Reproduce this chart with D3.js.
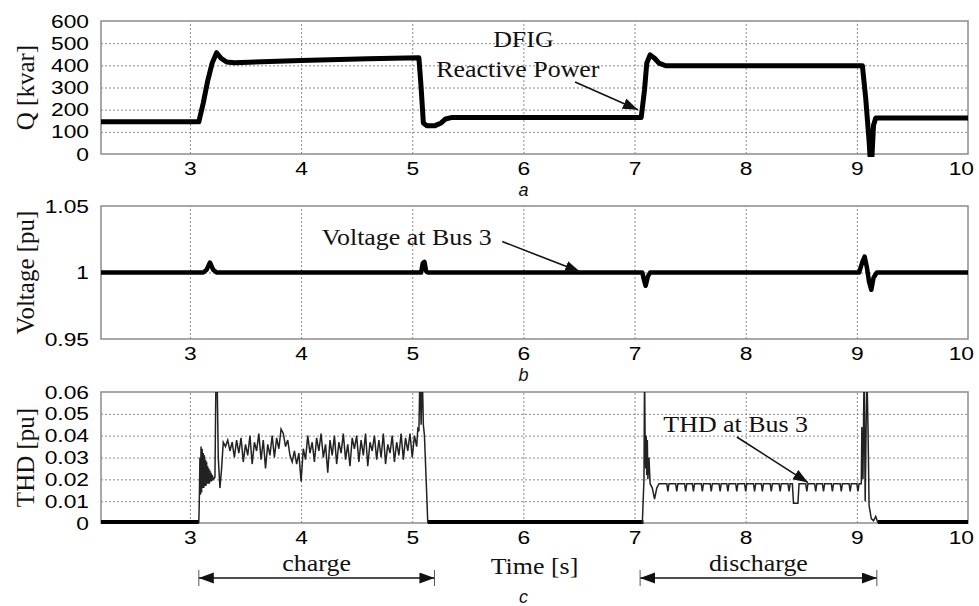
<!DOCTYPE html>
<html>
<head>
<meta charset="utf-8">
<script src="https://cdn.jsdelivr.net/npm/d3@7/dist/d3.min.js"></script>
<style>
  body { margin: 0; background: #fff; }
  .tick-lbl { font-family: "Liberation Sans", Arial, sans-serif; font-size: 19px; fill: #000; }
  .serif { font-family: "Liberation Serif", "Times New Roman", serif; fill: #111; }
</style>
</head>
<body>
<svg id="chart" width="979" height="606"></svg>
<script>
// ---- values ----
const timeTicks = [3, 4, 5, 6, 7, 8, 9, 10]
const timeGrid = [3, 4, 5, 6, 7, 8, 9]
const qTicks = [0, 100, 200, 300, 400, 500, 600]
const voltTicks = [0.95, 1, 1.05]
const thdTicks = [0, 0.01, 0.02, 0.03, 0.04, 0.05, 0.06]

// DFIG reactive power [kvar]
const qPoints = [
  [2.2, 145], [3.08, 145], [3.12, 230], [3.16, 330], [3.2, 410], [3.24, 457], [3.28, 432],
  [3.33, 415], [3.4, 412], [4.0, 422], [4.6, 430], [5.06, 434], [5.08, 300], [5.1, 140],
  [5.13, 128], [5.2, 127], [5.26, 140], [5.3, 158], [5.36, 165], [7.06, 165], [7.09, 290],
  [7.11, 410], [7.14, 447], [7.18, 432], [7.22, 410], [7.28, 398], [9.05, 398], [9.08, 250],
  [9.11, 60], [9.12, -20], [9.135, -20], [9.15, 130], [9.17, 162], [10, 162]
]

// voltage at bus 3 [pu]
const voltPoints = [
  [2.2, 1], [3.12, 1], [3.15, 1.002], [3.18, 1.0075], [3.21, 1.002], [3.24, 1], [5.08, 1],
  [5.095, 1.007], [5.11, 1.008], [5.125, 1.001], [5.14, 1], [7.07, 1], [7.08, 0.996],
  [7.1, 0.990], [7.12, 0.997], [7.14, 1], [9.02, 1], [9.05, 1.008], [9.07, 1.012],
  [9.09, 1.004], [9.11, 0.993], [9.13, 0.987], [9.15, 0.996], [9.18, 1], [10, 1]
]

// THD at bus 3 [pu], charging interval
const thdCharge = [
  [3.08, 0], [3.085, 0.012], [3.09, 0.03], [3.095, 0.013], [3.1, 0.035], [3.105, 0.014],
  [3.11, 0.034], [3.115, 0.016], [3.12, 0.032], [3.125, 0.016], [3.13, 0.031], [3.135, 0.017],
  [3.14, 0.029], [3.145, 0.017], [3.15, 0.028], [3.155, 0.018], [3.16, 0.026], [3.165, 0.018],
  [3.17, 0.025], [3.175, 0.018], [3.18, 0.024], [3.185, 0.019], [3.19, 0.023], [3.195, 0.019],
  [3.2, 0.022], [3.21, 0.02], [3.225, 0.021], [3.235, 0.07], [3.245, 0.065], [3.255, 0.03],
  [3.27, 0.016], [3.285, 0.025], [3.3, 0.037], [3.32, 0.035], [3.34, 0.038], [3.36, 0.033],
  [3.38, 0.037], [3.4, 0.03], [3.42, 0.038], [3.44, 0.032], [3.46, 0.039], [3.48, 0.028],
  [3.5, 0.036], [3.52, 0.031], [3.54, 0.04], [3.56, 0.027], [3.58, 0.037], [3.6, 0.033],
  [3.62, 0.041], [3.64, 0.029], [3.66, 0.038], [3.68, 0.025], [3.7, 0.036], [3.72, 0.031],
  [3.74, 0.04], [3.76, 0.03], [3.78, 0.039], [3.8, 0.034], [3.82, 0.043], [3.84, 0.041],
  [3.86, 0.035], [3.88, 0.038], [3.9, 0.031], [3.92, 0.028], [3.94, 0.033], [3.96, 0.027],
  [3.98, 0.032], [4.0, 0.019], [4.02, 0.034], [4.04, 0.029], [4.06, 0.04], [4.08, 0.032],
  [4.1, 0.037], [4.12, 0.028], [4.14, 0.039], [4.16, 0.033], [4.18, 0.041], [4.2, 0.03],
  [4.22, 0.036], [4.24, 0.023], [4.26, 0.038], [4.28, 0.031], [4.3, 0.04], [4.32, 0.027],
  [4.34, 0.037], [4.36, 0.032], [4.38, 0.041], [4.4, 0.029], [4.42, 0.036], [4.44, 0.026],
  [4.46, 0.039], [4.48, 0.034], [4.5, 0.04], [4.52, 0.028], [4.54, 0.038], [4.56, 0.031],
  [4.58, 0.041], [4.6, 0.026], [4.62, 0.037], [4.64, 0.033], [4.66, 0.04], [4.68, 0.029],
  [4.7, 0.038], [4.72, 0.03], [4.74, 0.041], [4.76, 0.027], [4.78, 0.036], [4.8, 0.032],
  [4.82, 0.04], [4.84, 0.028], [4.86, 0.037], [4.88, 0.031], [4.9, 0.041], [4.92, 0.029],
  [4.94, 0.039], [4.96, 0.033], [4.98, 0.041], [5.0, 0.03], [5.02, 0.04], [5.04, 0.035],
  [5.05, 0.043], [5.06, 0.042], [5.07, 0.07], [5.08, 0.045], [5.09, 0.07], [5.1, 0.045],
  [5.11, 0.04], [5.125, 0.02], [5.14, 0]
]

// THD at bus 3 [pu], discharging interval
const thdDischarge = [
  [7.07, 0], [7.085, 0.02], [7.09, 0.07], [7.095, 0.04], [7.1, 0.025], [7.105, 0.04],
  [7.11, 0.022], [7.115, 0.038], [7.12, 0.02], [7.13, 0.03], [7.14, 0.018], [7.16, 0.016],
  [7.18, 0.011], [7.2, 0.016], [7.22, 0.018],
  [7.29, 0.018], [7.3, 0.0145], [7.31, 0.018], [7.37, 0.018], [7.38, 0.0145], [7.39, 0.018],
  [7.45, 0.018], [7.46, 0.0145], [7.47, 0.018], [7.52, 0.018], [7.53, 0.0145], [7.54, 0.018],
  [7.6, 0.018], [7.61, 0.0145], [7.62, 0.018], [7.68, 0.018], [7.69, 0.0145], [7.7, 0.018],
  [7.76, 0.018], [7.77, 0.0145], [7.78, 0.018], [7.83, 0.018], [7.84, 0.0145], [7.85, 0.018],
  [7.91, 0.018], [7.92, 0.0145], [7.93, 0.018], [7.99, 0.018], [8.0, 0.0145], [8.01, 0.018],
  [8.07, 0.018], [8.08, 0.0145], [8.09, 0.018], [8.14, 0.018], [8.15, 0.0145], [8.16, 0.018],
  [8.22, 0.018], [8.23, 0.0145], [8.24, 0.018], [8.3, 0.018], [8.31, 0.0145], [8.32, 0.018],
  [8.38, 0.018], [8.39, 0.0145], [8.4, 0.018], [8.42, 0.018], [8.43, 0.009], [8.47, 0.009],
  [8.48, 0.018], [8.54, 0.018], [8.55, 0.0145], [8.56, 0.018], [8.62, 0.018], [8.63, 0.0145],
  [8.64, 0.018], [8.69, 0.018], [8.7, 0.0145], [8.71, 0.018], [8.77, 0.018], [8.78, 0.0145],
  [8.79, 0.018], [8.85, 0.018], [8.86, 0.0145], [8.87, 0.018], [8.93, 0.018], [8.94, 0.0145],
  [8.95, 0.018], [9.0, 0.018], [9.01, 0.0145], [9.02, 0.018], [9.04, 0.018], [9.045, 0.044],
  [9.05, 0.03], [9.055, 0.02], [9.065, 0.07], [9.075, 0.01], [9.09, 0.07], [9.1, 0.045],
  [9.11, 0.008], [9.13, 0.002], [9.15, 0.001], [9.17, 0.003], [9.19, 0]
]

// intervals where THD sits at zero (drawn heavy in the original)
const thdZeroSpans = [[2.2, 3.08], [5.14, 7.08], [9.19, 10]]

const qNotes = [['DFIG', 6.0, 483], ['Reactive Power', 5.95, 347]]
const qArrow = [[6.465, 325], [7.03, 200]]
const voltNotes = [['Voltage at Bus 3', 4.95, 1.021]]
const voltArrow = [[5.81, 1.0233], [6.51, 1.0005]]
const thdNotes = [['THD at Bus 3', 7.91, 0.0415]]
const thdArrow = [[7.92, 0.0394], [8.56, 0.0185]]
const phaseSpans = [['charge', 3.08, 5.2], ['discharge', 7.05, 9.18]]

// ---- layout ----
const left = 101, right = 968
const svg = d3.select('#chart')
const x = d3.scaleLinear().domain([2.2, 10]).range([left, right])

// horizontal stretch about the text anchor, the scan is wider than tall
function stretch (sel, k) {
  sel.attr('transform', function () {
    const tx = +d3.select(this).attr('x') || 0
    return 'translate(' + tx + ',0) scale(' + k + ',1) translate(' + (-tx) + ',0)'
  })
}

const defs = svg.append('defs')
defs.append('marker')
  .attr('id', 'head')
  .attr('markerUnits', 'userSpaceOnUse')
  .attr('markerWidth', 16).attr('markerHeight', 12)
  .attr('refX', 15).attr('refY', 5.5)
  .attr('orient', 'auto-start-reverse')
  .append('path').attr('d', 'M0,0 L15,5.5 L0,11 Z').attr('fill', '#111')

const panels = [
  { key: 'q', top: 21, bottom: 154, domain: [0, 600], ticks: qTicks, grid: [100, 200, 300, 400, 500],
    label: 'Q [kvar]', sub: 'a', fmt: d3.format('d') },
  { key: 'v', top: 206, bottom: 339, domain: [0.95, 1.05], ticks: voltTicks, grid: [1],
    label: 'Voltage [pu]', sub: 'b', fmt: d => String(d) },
  { key: 't', top: 392, bottom: 523, domain: [0, 0.06], ticks: thdTicks, grid: [0.01, 0.02, 0.03, 0.04, 0.05],
    label: 'THD [pu]', sub: 'c', fmt: d => String(d) }
]

panels.forEach(p => {
  p.y = d3.scaleLinear().domain(p.domain).range([p.bottom, p.top])
  const g = svg.append('g').attr('class', 'panel-' + p.key)

  // lines may spill a little over the lower frame, as in the original
  defs.append('clipPath').attr('id', 'clip-' + p.key)
    .append('rect').attr('x', left).attr('y', p.top)
    .attr('width', right - left).attr('height', p.bottom - p.top + 3)

  // grid
  const vg = g.append('g').attr('transform', 'translate(0,' + p.bottom + ')')
    .call(d3.axisBottom(x).tickValues(timeGrid).tickSize(-(p.bottom - p.top)).tickFormat(''))
  const hg = g.append('g').attr('transform', 'translate(' + left + ',0)')
    .call(d3.axisLeft(p.y).tickValues(p.grid).tickSize(-(right - left)).tickFormat(''))
  ;[vg, hg].forEach(s => {
    s.select('.domain').remove()
    s.selectAll('line').attr('stroke', '#8a8a8a').attr('stroke-width', 1).attr('stroke-dasharray', '2,2')
  })

  // frame
  g.append('rect').attr('x', left).attr('y', p.top)
    .attr('width', right - left).attr('height', p.bottom - p.top)
    .attr('fill', 'none').attr('stroke', '#8c8c8c').attr('stroke-width', 1.5)

  // tick labels
  const ya = g.append('g').attr('transform', 'translate(' + left + ',0)')
    .call(d3.axisLeft(p.y).tickValues(p.ticks).tickSize(0).tickPadding(12).tickFormat(p.fmt))
  const xa = g.append('g').attr('transform', 'translate(0,' + p.bottom + ')')
    .call(d3.axisBottom(x).tickValues(timeTicks).tickSize(0).tickPadding(8).tickFormat(d3.format('d')))
  ;[ya, xa].forEach(s => {
    s.select('.domain').remove()
    s.selectAll('text').attr('class', 'tick-lbl').attr('font-size', null).attr('font-family', null)
    s.attr('font-size', null).attr('font-family', null)
    stretch(s.selectAll('text'), 1.2)
  })
  // last label sits against the page edge, nudge it in
  xa.selectAll('text').filter(d => d === 10).attr('dx', -6)

  // y label
  g.append('text').attr('class', 'serif')
    .attr('transform', 'translate(34,' + (p.top + p.bottom) / 2 + ') rotate(-90)')
    .attr('text-anchor', 'middle').attr('font-size', 25).text(p.label)

  // panel letter
  g.append('text').attr('x', x(6)).attr('y', p.bottom + (p.key === 't' ? 80 : 42))
    .attr('text-anchor', 'middle').attr('font-style', 'italic')
    .attr('font-family', 'Liberation Sans, Arial, sans-serif').attr('font-size', 18)
    .attr('fill', '#111').text(p.sub)

  p.plot = g.append('g').attr('clip-path', 'url(#clip-' + p.key + ')')
  p.g = g
})

const [pq, pv, pt] = panels
const lineFor = p => d3.line().x(d => x(d[0])).y(d => p.y(d[1]))

pq.plot.append('path').datum(qPoints).attr('d', lineFor(pq))
  .attr('fill', 'none').attr('stroke', '#000').attr('stroke-width', 5).attr('stroke-linejoin', 'round')

pv.plot.append('path').datum(voltPoints).attr('d', lineFor(pv))
  .attr('fill', 'none').attr('stroke', '#000').attr('stroke-width', 4.5).attr('stroke-linejoin', 'round')

thdZeroSpans.forEach(s => {
  pt.plot.append('line').attr('x1', x(s[0])).attr('x2', x(s[1]))
    .attr('y1', pt.y(0) - 1).attr('y2', pt.y(0) - 1)
    .attr('stroke', '#000').attr('stroke-width', 4)
})
;[thdCharge, thdDischarge].forEach(series => {
  pt.plot.append('path').datum(series).attr('d', lineFor(pt))
    .attr('fill', 'none').attr('stroke', '#222').attr('stroke-width', 1.5)
})

// annotations
function annotate (p, notes, arrow) {
  notes.forEach(n => {
    const t = p.g.append('text').attr('class', 'serif').attr('font-size', 24)
      .attr('text-anchor', 'middle').attr('x', x(n[1])).attr('y', p.y(n[2])).text(n[0])
    stretch(t, 1.08)
  })
  p.g.append('line')
    .attr('x1', x(arrow[0][0])).attr('y1', p.y(arrow[0][1]))
    .attr('x2', x(arrow[1][0])).attr('y2', p.y(arrow[1][1]))
    .attr('stroke', '#111').attr('stroke-width', 1.6).attr('marker-end', 'url(#head)')
}
annotate(pq, qNotes, qArrow)
annotate(pv, voltNotes, voltArrow)
annotate(pt, thdNotes, thdArrow)

// charge / discharge spans under the THD panel
const spanY = pt.bottom + 55
phaseSpans.forEach(s => {
  const g = svg.append('g')
  g.append('line').attr('x1', x(s[1])).attr('x2', x(s[2])).attr('y1', spanY).attr('y2', spanY)
    .attr('stroke', '#111').attr('stroke-width', 1.6)
    .attr('marker-start', 'url(#head)').attr('marker-end', 'url(#head)')
  ;[s[1], s[2]].forEach(v => {
    g.append('line').attr('x1', x(v)).attr('x2', x(v)).attr('y1', spanY - 8).attr('y2', spanY + 8)
      .attr('stroke', '#555').attr('stroke-width', 1)
  })
  const t = g.append('text').attr('class', 'serif').attr('font-size', 24).attr('text-anchor', 'middle')
    .attr('x', x((s[1] + s[2]) / 2)).attr('y', spanY - 7).text(s[0])
  stretch(t, 1.08)
})

const tl = svg.append('text').attr('class', 'serif').attr('font-size', 24).attr('text-anchor', 'middle')
  .attr('x', x(6.1)).attr('y', spanY - 4).text('Time [s]')
stretch(tl, 1.08)
</script>
</body>
</html>
